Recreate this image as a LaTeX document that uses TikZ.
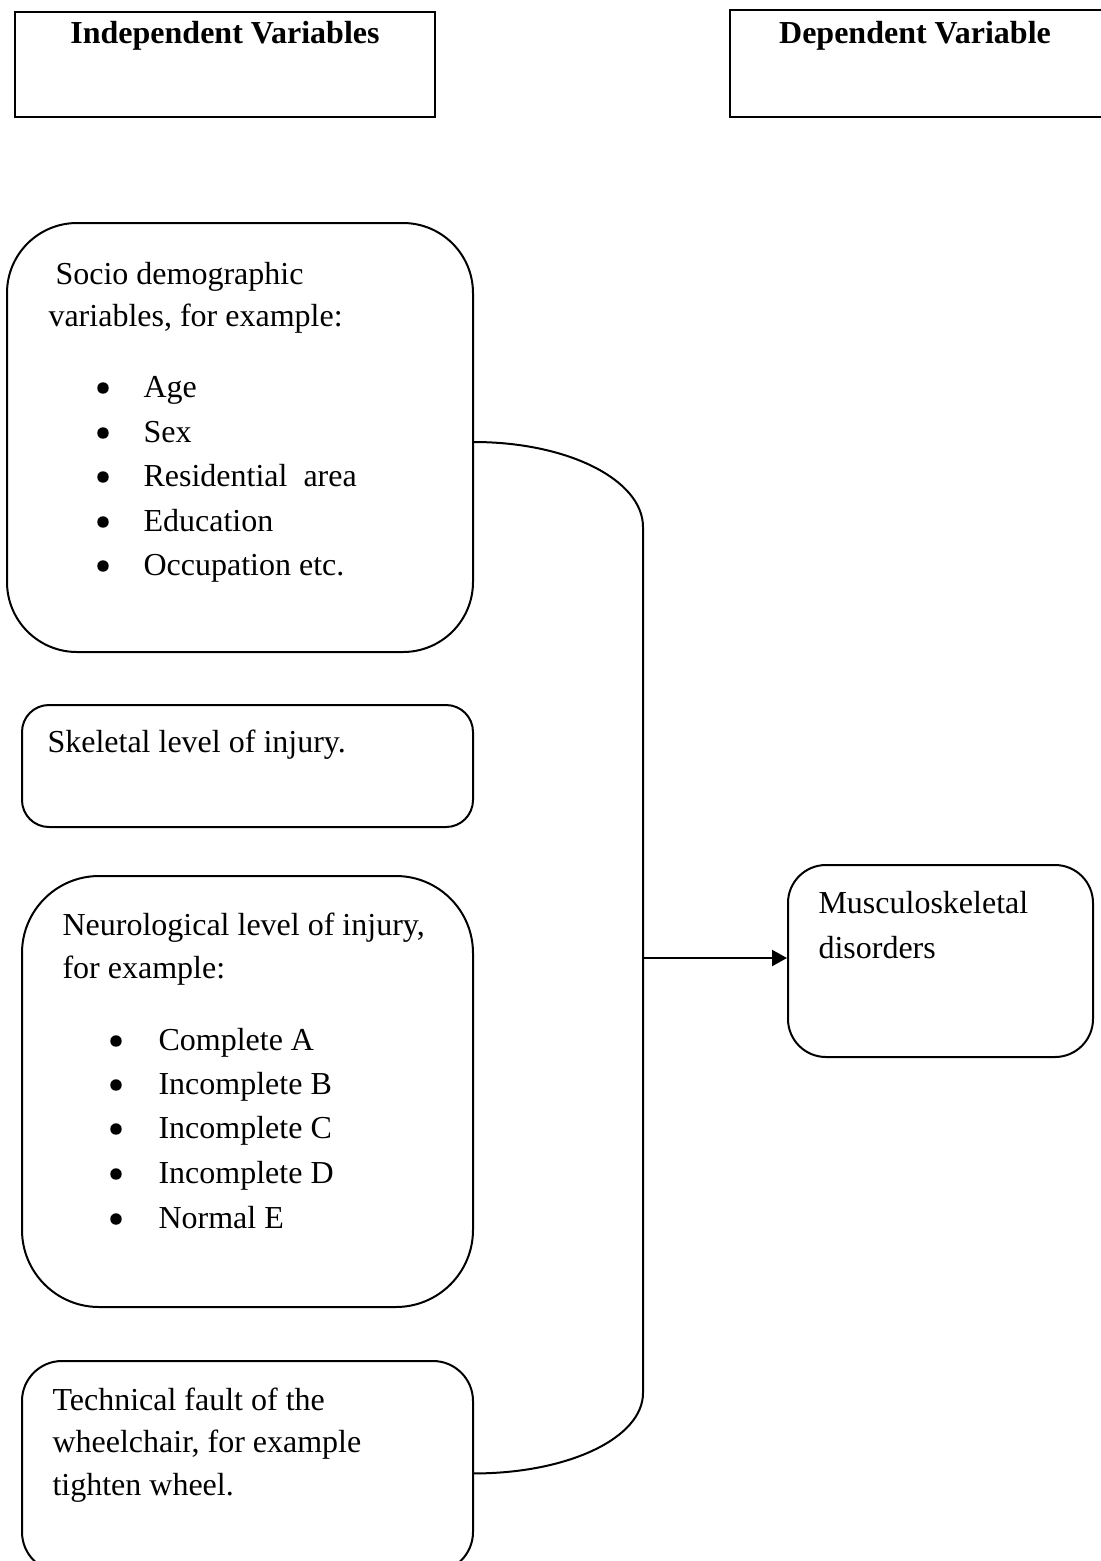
\documentclass[tikz,border=0pt]{standalone}
\usepackage{fontspec}
\setmainfont{Liberation Serif}
\usetikzlibrary{arrows.meta,fit,calc}
\begin{document}
\begin{tikzpicture}[x=0.375pt,y=-0.375pt,
  font=\fontsize{12}{14}\selectfont,
  hdr/.style={draw,line width=1.1pt,inner sep=0pt},
  rbox/.style={draw,line width=0.75pt,inner sep=0pt},
  txt/.style={anchor=base west,inner sep=0pt},
  bul/.style={circle,fill=black,inner sep=0pt,minimum size=4.3pt},
  htxt/.style={anchor=base,inner sep=0pt,font=\fontsize{12}{14}\selectfont\bfseries},
  conn/.style={line width=0.75pt}]
\useasboundingbox (0,0) rectangle (1101,1561);

% header boxes
\node[hdr, fit={(15,12) (435,117)}] (indep) {};
\node[hdr, fit={(730,10) (1106,117)}] (dep) {};
\node[htxt] (indeptxt) at (225,43) {Independent Variables};
\node[htxt] (deptxt) at (915,43) {Dependent Variable};

% rounded boxes
\node[rbox, rounded corners=26.25pt, fit={(7,223) (473,652)}] (socio) {};
\node[rbox, rounded corners=10.1pt, fit={(22,705) (473,827)}] (skel) {};
\node[rbox, rounded corners=28.9pt, fit={(22,876) (473,1307)}] (neuro) {};
\node[rbox, rounded corners=15pt, fit={(22,1361) (473,1572)}] (tech) {};
\node[rbox, rounded corners=14.25pt, fit={(788,865) (1093,1057)}] (musc) {};

% socio text
\node[txt] (s1) at (55,284) {Socio demographic};
\node[txt] (s2) at (48,326) {variables, for example:};
\foreach \t/\y [count=\i] in {Age/397, Sex/442, Residential\ \ area/486, Education/531, Occupation etc./575}{
  \node[bul] (sb\i) at (103,\y-9) {};
  \node[txt] (si\i) at (143,\y) {\t};
}

% skeletal text
\node[txt] (k1) at (47,752) {Skeletal level of injury.};

% neuro text
\node[txt] (n1) at (62,935) {Neurological level of injury,};
\node[txt] (n2) at (62,978) {for example:};
\foreach \t/\y [count=\i] in {Complete A/1050, Incomplete B/1094, Incomplete C/1138, Incomplete D/1183, Normal E/1228}{
  \node[bul] (nb\i) at (116,\y-9) {};
  \node[txt] (ni\i) at (158,\y) {\t};
}

% technical text
\node[txt] (t1) at (52,1410) {Technical fault of the};
\node[txt] (t2) at (52,1452) {wheelchair, for example};
\node[txt] (t3) at (52,1495) {tighten wheel.};

% musculoskeletal text
\node[txt] (m1) at (818,913) {Musculoskeletal};
\node[txt] (m2) at (818,958) {disorders};

% connectors
\coordinate (ttop) at (643,527);
\coordinate (tbot) at (643,1393);
\coordinate (junc) at (643,958);
\draw[conn] ([yshift=-1.69pt]socio.east) .. controls +(94,0) and +(0,-47) .. (ttop)
  -- (tbot) .. controls +(0,45) and +(94,0) .. ([yshift=-2.6pt]tech.east);
\draw[conn,-{Triangle[length=5.6pt,width=6pt]}] (junc) -- (junc -| musc.west);
\end{tikzpicture}
\end{document}
